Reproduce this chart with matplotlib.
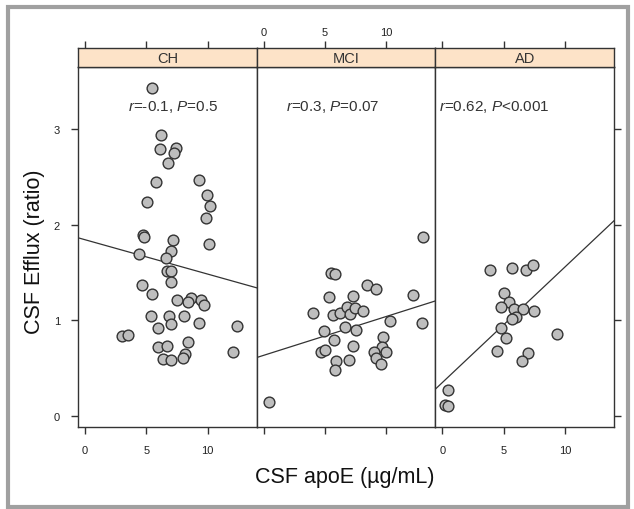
import numpy as np
import matplotlib
matplotlib.use('Agg')
import matplotlib.pyplot as plt
from matplotlib.patches import Rectangle

plt.rcParams['font.family'] = ['Liberation Sans', 'DejaVu Sans']
plt.rcParams['mathtext.fontset'] = 'custom'
plt.rcParams['mathtext.it'] = 'Liberation Sans:italic'
plt.rcParams['mathtext.rm'] = 'Liberation Sans'

# data
groups = ['CH', 'MCI', 'AD']

ch_x = [5.43, 6.19, 6.10, 7.41, 7.25, 6.74, 5.79, 9.32, 5.03, 9.97,
        10.19, 9.86, 4.76, 4.85, 7.14, 10.10, 6.98, 4.43, 6.60, 6.66,
        6.98, 7.01, 4.62, 5.49, 7.53, 8.61, 8.42, 9.43, 9.70, 5.35,
        6.87, 8.07, 5.92, 6.98, 9.32, 12.36, 2.99, 3.53, 5.98, 6.71,
        8.37, 8.15, 6.38, 7.01, 7.96, 12.09]
ch_y = [3.43, 2.94, 2.79, 2.80, 2.75, 2.64, 2.45, 2.47, 2.24, 2.31,
        2.19, 2.07, 1.89, 1.87, 1.84, 1.80, 1.72, 1.69, 1.65, 1.52,
        1.51, 1.40, 1.37, 1.27, 1.21, 1.23, 1.19, 1.21, 1.16, 1.04,
        1.05, 1.04, 0.92, 0.96, 0.97, 0.94, 0.84, 0.85, 0.72, 0.73,
        0.77, 0.65, 0.60, 0.58, 0.61, 0.67]

mci_x = [0.43, 12.98, 5.51, 5.84, 8.45, 9.13, 12.17, 5.30, 7.28, 4.02,
         5.65, 6.25, 6.79, 7.01, 7.42, 8.09, 12.93, 10.27, 6.60, 4.89,
         7.55, 5.70, 7.28, 9.72, 9.67, 10.00, 4.65, 4.97, 8.99, 9.13,
         9.54, 6.95, 5.87, 5.79]
mci_y = [0.15, 1.87, 1.49, 1.48, 1.37, 1.33, 1.26, 1.24, 1.25, 1.08,
         1.06, 1.08, 1.14, 1.07, 1.13, 1.10, 0.97, 0.99, 0.93, 0.89,
         0.90, 0.79, 0.73, 0.83, 0.72, 0.67, 0.67, 0.69, 0.67, 0.61,
         0.54, 0.58, 0.57, 0.48]

ad_x = [0.49, 0.22, 0.49, 3.89, 5.65, 6.82, 7.37, 5.05, 5.46, 4.78,
        5.84, 6.55, 7.47, 6.01, 5.65, 4.78, 5.19, 9.37, 4.43, 7.01, 6.50]
ad_y = [0.275, 0.11, 0.10, 1.53, 1.55, 1.53, 1.58, 1.29, 1.19, 1.14,
        1.12, 1.12, 1.10, 1.03, 1.01, 0.92, 0.82, 0.86, 0.68, 0.66, 0.57]

# regression lines (intercept, slope) as drawn
fit_a = [1.842, 0.634, 0.35]
fit_b = [-0.0359, 0.0406, 0.1208]

stats = [r'$\it{r}$=-0.1, $\it{P}$=0.5',
         r'$\it{r}$=0.3, $\it{P}$=0.07',
         r'$\it{r}$=0.62, $\it{P}$<0.001']
stat_x = [7.2, 5.6, 4.2]

xs = [ch_x, mci_x, ad_x]
ys = [ch_y, mci_y, ad_y]

W, H = 634, 510
fig = plt.figure(figsize=(W / 100, H / 100), dpi=100)

xlim = (-0.57, 14.0)
ylim = (-0.115, 3.65)
left, pw = 78, 178.7
top_plot, bot_plot = 67.7, 428
strip_top = 49.3
edge = '#333333'
tcol = '#222222'

for i in range(3):
    x0 = left + i * pw
    ax = fig.add_axes([x0 / W, (H - bot_plot) / H, pw / W, (bot_plot - top_plot) / H])
    ax.set_xlim(xlim)
    ax.set_ylim(ylim)
    ax.scatter(xs[i], ys[i], s=60, facecolor='#bebebe', edgecolor='#333333',
               linewidth=1.0, zorder=3)
    lx = np.array(xlim)
    ax.plot(lx, fit_a[i] + fit_b[i] * lx, color='#333333', lw=0.9, zorder=2)
    ax.text(stat_x[i], 3.24, stats[i], ha='center', va='center',
            fontsize=11, color='#333333')
    for s in ax.spines.values():
        s.set_color(edge)
        s.set_linewidth(1.0)

    ax.set_xticks([0, 5, 10])
    ax.tick_params(axis='x', direction='out', length=5, width=1, color=edge,
                   labelsize=8, labelcolor=tcol, pad=8, top=False)
    if i == 1:
        ax.tick_params(axis='x', labelbottom=False)

    ax.set_yticks([0, 1, 2, 3])
    ax.tick_params(axis='y', direction='out', length=5, width=1, color=edge,
                   labelsize=8, labelcolor=tcol, pad=8)
    if i == 0:
        ax.tick_params(axis='y', left=True, labelleft=True, right=False)
    elif i == 1:
        ax.tick_params(axis='y', left=False, labelleft=False, right=False)
    else:
        ax.tick_params(axis='y', left=False, labelleft=False, right=True,
                       labelright=False)

    # strip
    sx = fig.add_axes([x0 / W, (H - top_plot) / H, pw / W, (top_plot - strip_top) / H])
    sx.set_facecolor('#fde3c8')
    sx.set_xlim(xlim)
    sx.set_ylim(0, 1)
    sx.set_yticks([])
    sx.set_xticks([0, 5, 10])
    sx.tick_params(axis='x', direction='out', length=5, width=1, color=edge,
                   labelsize=8, labelcolor=tcol, bottom=False, labelbottom=False,
                   top=True, labeltop=(i == 1), pad=3)
    for s in sx.spines.values():
        s.set_color(edge)
        s.set_linewidth(1.0)
    sx.text(0.5, 0.45, groups[i], transform=sx.transAxes, ha='center',
            va='center', fontsize=10.5, color='#333333')

fig.text(345 / W, 1 - 478 / H, 'CSF apoE (µg/mL)', ha='center', va='center',
         fontsize=15.5, color='#111111')
fig.text(35 / W, 1 - 252 / H, 'CSF Efflux (ratio)', ha='center', va='center',
         rotation=90, fontsize=15.5, color='#111111')

# grey frame round the figure
fig.patches.append(Rectangle((8 / W, 2 / H), 620 / W, 500 / H, fill=False,
                             edgecolor='#a0a0a0', linewidth=3,
                             transform=fig.transFigure))

fig.savefig('out.png', dpi=100)
